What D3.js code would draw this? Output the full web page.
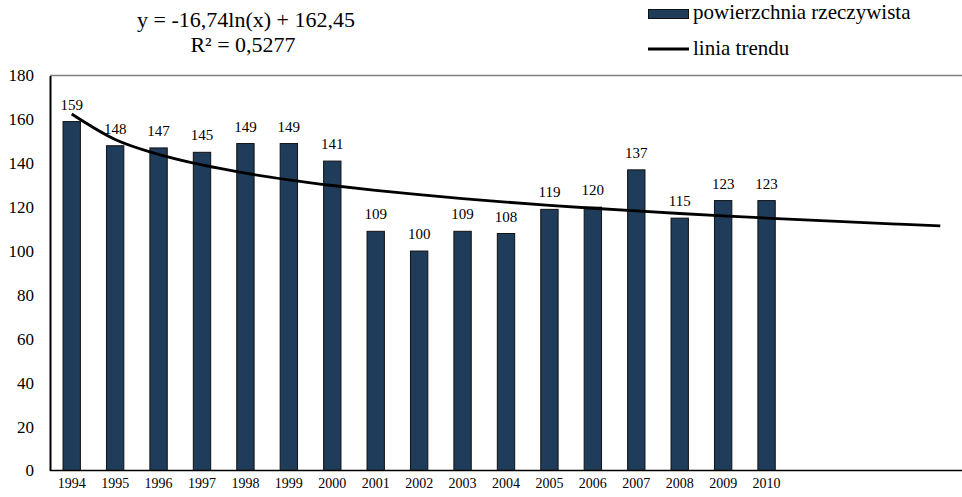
<!DOCTYPE html>
<html>
<head>
<meta charset="utf-8">
<script src="https://cdn.jsdelivr.net/npm/d3@7"></script>
<style>
  html, body { margin: 0; padding: 0; background: #fff; }
  svg { display: block; }
  svg text { font-family: "Liberation Serif", "Times New Roman", serif; }
</style>
</head>
<body>
<svg id="chart" width="962" height="497"></svg>
<script>
const years = ["1994","1995","1996","1997","1998","1999","2000","2001","2002","2003","2004","2005","2006","2007","2008","2009","2010"];
const values = [159,148,147,145,149,149,141,109,100,109,108,119,120,137,115,123,123];
const extraSlots = ["2011","2012","2013","2014"]; // empty categories the trend extends over
const yTicks = [0,20,40,60,80,100,120,140,160,180];
const trendA = -16.74, trendB = 162.45;
const equationText = "y = -16,74ln(x) + 162,45";
const r2Text = "R² = 0,5277";
const legendLabels = ["powierzchnia rzeczywista", "linia trendu"];

const FONT = "Liberation Serif, Times New Roman, serif";
const svg = d3.select("#chart");
const margin = {left: 50, right: 0, top: 75.5, bottom: 26.5};
const W = 962, H = 497;

const allCats = years.concat(extraSlots);
const x = d3.scaleBand().domain(allCats).range([margin.left, W - margin.right]).paddingInner(0.6).paddingOuter(0.3);
const y = d3.scaleLinear().domain([0, 180]).range([H - margin.bottom, margin.top]);

const barFill = "#1f3c5b";

// top border
svg.append("line").attr("x1", margin.left).attr("x2", W).attr("y1", margin.top).attr("y2", margin.top)
  .attr("stroke", "#7f7f7f").attr("stroke-width", 1.5);

// bars
svg.selectAll("rect.bar").data(values).enter().append("rect")
  .attr("class", "bar")
  .attr("x", (d, i) => x(years[i]))
  .attr("width", x.bandwidth())
  .attr("y", d => y(d))
  .attr("height", d => y(0) - y(d))
  .attr("fill", barFill)
  .attr("stroke", "#111")
  .attr("stroke-width", 1);

// data labels
svg.selectAll("text.lbl").data(values).enter().append("text")
  .attr("class", "lbl")
  .attr("x", (d, i) => x(years[i]) + x.bandwidth() / 2)
  .attr("y", d => y(d) - 12)
  .attr("text-anchor", "middle")
  .attr("font-family", FONT)
  .attr("font-size", 15)
  .attr("fill", "#000")
  .text(d => d);

// trend line
const trendPts = allCats.map((c, i) => [x(c) + x.bandwidth() / 2, trendA * Math.log(i + 1) + trendB]);
svg.append("path")
  .datum(trendPts)
  .attr("fill", "none")
  .attr("stroke", "#000")
  .attr("stroke-width", 2.8)
  .attr("d", d3.line().x(d => d[0]).y(d => y(d[1])).curve(d3.curveMonotoneX));

// y axis
const yAxis = svg.append("g").attr("transform", `translate(${margin.left},0)`)
  .call(d3.axisLeft(y).tickValues(yTicks).tickSize(0).tickPadding(16));
yAxis.attr("font-family", FONT);
yAxis.select(".domain").attr("stroke", "#000").attr("stroke-width", 2);
yAxis.selectAll("text").attr("font-size", 17).attr("font-family", FONT).attr("fill", "#000");

// x axis
const xAxis = svg.append("g").attr("transform", `translate(0,${H - margin.bottom})`)
  .call(d3.axisBottom(x).tickValues(years).tickSize(0).tickPadding(8));
xAxis.attr("font-family", FONT);
xAxis.select(".domain").attr("stroke", "#000").attr("stroke-width", 1.5).attr("d", `M${margin.left},0H${W}`);
xAxis.selectAll("text").attr("font-size", 14).attr("font-family", FONT).attr("fill", "#000");

// equation
svg.append("text").attr("x", 246).attr("y", 26.5).attr("text-anchor", "middle").attr("font-family", FONT).attr("font-size", 22).text(equationText);
svg.append("text").attr("x", 243).attr("y", 52).attr("text-anchor", "middle").attr("font-family", FONT).attr("font-size", 22).text(r2Text);

// legend
const lg = svg.append("g");
lg.append("rect").attr("x", 648.5).attr("y", 9.5).attr("width", 40).attr("height", 9)
  .attr("fill", barFill).attr("stroke", "#111").attr("stroke-width", 1);
lg.append("text").attr("x", 693).attr("y", 18.5).attr("font-family", FONT).attr("font-size", 21).text(legendLabels[0]);
lg.append("line").attr("x1", 648).attr("x2", 689).attr("y1", 49).attr("y2", 49).attr("stroke", "#000").attr("stroke-width", 3);
lg.append("text").attr("x", 693).attr("y", 54.5).attr("font-family", FONT).attr("font-size", 21).text(legendLabels[1]);
</script>
</body>
</html>
